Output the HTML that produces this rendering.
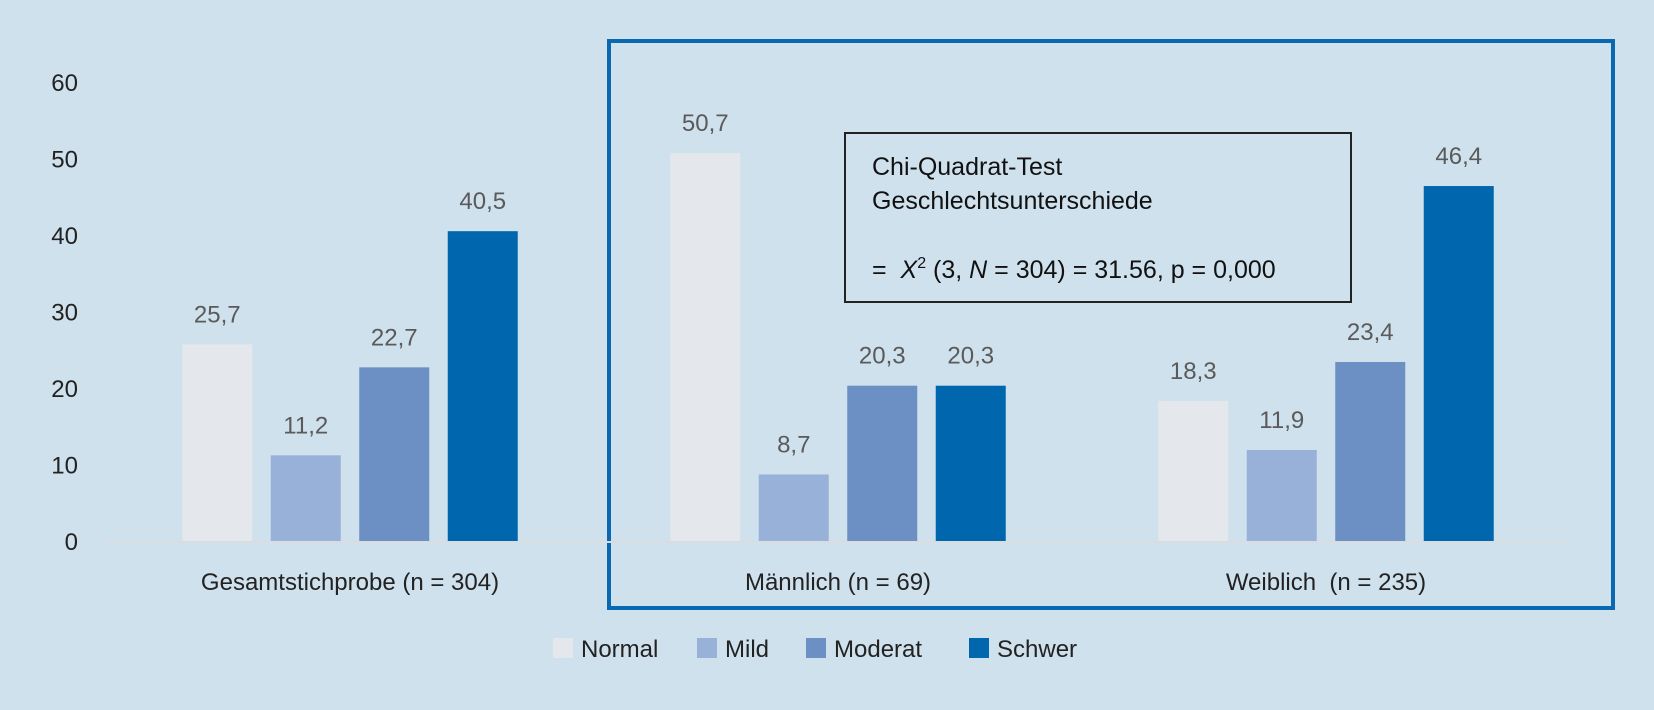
<!DOCTYPE html>
<html><head><meta charset="utf-8"><style>
html,body{margin:0;padding:0;background:#cfe1ed;}
svg{display:block;font-family:"Liberation Sans",sans-serif;}
</style></head><body>
<svg id="chart" width="1654" height="710" viewBox="0 0 1654 710">
<rect x="0" y="0" width="1654" height="710" fill="#cfe1ed"/>
<rect x="609" y="41" width="1004" height="567" fill="none" stroke="#0a68b0" stroke-width="4"/>
<g id="axis"></g>
<g id="bars"></g>
<g>
<rect x="845" y="133" width="506" height="169" fill="none" stroke="#222" stroke-width="2"/>
<text x="872" y="175" font-size="25" fill="#111">Chi-Quadrat-Test</text>
<text x="872" y="209" font-size="25" fill="#111">Geschlechtsunterschiede</text>
<text x="872" y="278" font-size="25" fill="#111">=&#160; <tspan font-style="italic">X</tspan><tspan font-size="16" dy="-10">2</tspan><tspan dy="10"> (3, </tspan><tspan font-style="italic">N</tspan> = 304) = 31.56, p = 0,000</text>
</g>
<g id="legend"></g>
</svg>
<script>
const categories = ["Gesamtstichprobe (n = 304)", "Männlich (n = 69)", "Weiblich\u00a0 (n = 235)"];
const seriesNames = ["Normal", "Mild", "Moderat", "Schwer"];
const normalValues = [25.7, 50.7, 18.3];
const mildValues = [11.2, 8.7, 11.9];
const moderatValues = [22.7, 20.3, 23.4];
const schwerValues = [40.5, 20.3, 46.4];
const yTicks = [0, 10, 20, 30, 40, 50, 60];

const NS = "http://www.w3.org/2000/svg";
const colors = ["#e4e8ec", "#98b1d8", "#6c8fc4", "#0066ae"];
const series = [normalValues, mildValues, moderatValues, schwerValues];
const plotLeft = 106, plotRight = 1570, baseY = 541, unit = 7.65;
const groupW = (plotRight - plotLeft) / categories.length;
const barW = 70, barStep = 88.5;
function y(v){ return baseY - v * unit; }
function groupCenter(i){ return plotLeft + groupW * (i + 0.5); }
function mk(tag, attrs, parent){ const e = document.createElementNS(NS, tag); for (const k in attrs) e.setAttribute(k, attrs[k]); parent.appendChild(e); return e; }

const axis = document.getElementById("axis");
yTicks.forEach(t => {
  const tx = mk("text", {x: 78, y: y(t) + 9, "font-size": 24, fill: "#222", "text-anchor": "end"}, axis);
  tx.textContent = t;
  
  
});
const axLine = mk("line", {x1: plotLeft, x2: plotRight, y1: baseY + 1, y2: baseY + 1, stroke: "#d9dde1", "stroke-width": 2}, axis);


categories.forEach((c, i) => {
  const tx = mk("text", {x: groupCenter(i), y: 590, "font-size": 24, fill: "#222", "text-anchor": "middle"}, axis);
  tx.textContent = c;
  
  
});

const bars = document.getElementById("bars");
series.forEach((vals, s) => {
  vals.forEach((v, i) => {
    const x = groupCenter(i) + (s - 1.5) * barStep - barW / 2;
    const r = mk("rect", {x: x, y: y(v), width: barW, height: baseY - y(v), fill: colors[s]}, bars);
    
    
    const tx = mk("text", {x: x + barW / 2, y: y(v) - 22, "font-size": 24, fill: "#5a5a5a", "text-anchor": "middle"}, bars);
    tx.textContent = v.toFixed(1).replace(".", ",");
    
    
  });
});

const legend = document.getElementById("legend");
const legX = [553, 697, 806, 969];
seriesNames.forEach((n, s) => {
  const r = mk("rect", {x: legX[s], y: 638, width: 20, height: 20, fill: colors[s]}, legend);
  
  
  const tx = mk("text", {x: legX[s] + 28, y: 657, "font-size": 24, fill: "#222"}, legend);
  tx.textContent = n;
  
  
});
</script>
</body></html>
